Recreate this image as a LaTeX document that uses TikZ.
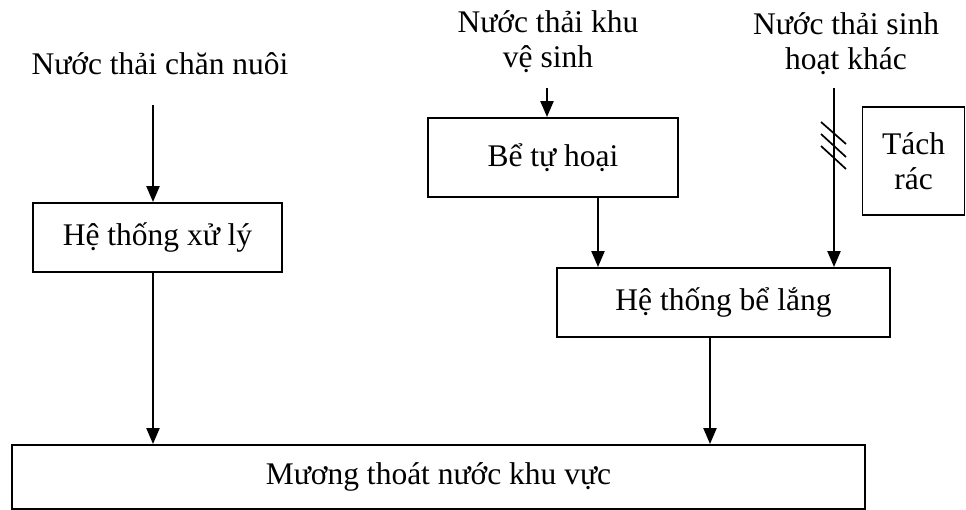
\documentclass[tikz,border=0pt]{standalone}
\usepackage{fontspec}
\setmainfont{Liberation Serif}
\usetikzlibrary{arrows.meta}
\begin{document}
\begin{tikzpicture}[x=1pt,y=-1pt,
  box/.style={draw,line width=1.9pt,inner sep=0pt},
  arr/.style={line width=2.2pt,-{Triangle[length=16pt,width=13pt]}},
  lbl/.style={align=center,inner sep=0pt},
  hatch/.style={line width=1.7pt},
  every node/.style={font=\fontsize{31.5}{35}\selectfont}]
\useasboundingbox (0,0) rectangle (966,510);

\node[box,minimum width=249pt,minimum height=69pt] (xuly) at (157.5,237.5) {Hệ thống xử lý};
\node[box,minimum width=250pt,minimum height=79pt] (tuhoai) at (553,157.5) {Bể tự hoại};
\node[box,minimum width=333pt,minimum height=69pt] (lang) at (723.5,302.5) {Hệ thống bể lắng};
\node[box,minimum width=853pt,minimum height=64pt] (muong) at (438.5,477) {Mương thoát nước khu vực};
\node[box,minimum width=102pt,minimum height=108pt,align=center] (tachrac) at (913.5,161) {Tách\\rác};

\node[lbl,anchor=base] (chan) at (160,75) {Nước thải chăn nuôi};
\node[lbl,anchor=base] (vesinh) at (548,68) {Nước thải khu\\vệ sinh};
\node[lbl,anchor=base] (khac) at (846,70) {Nước thải sinh\\hoạt khác};

\coordinate (c1) at (153,105);
\coordinate (c2) at (547,88);
\coordinate (c3) at (834,88);
\coordinate (x598) at (598,0);
\coordinate (x710) at (710,0);

\draw[arr] (c1) -- (c1 |- xuly.north);
\draw[arr] (xuly.south -| c1) -- (muong.north -| c1);
\draw[arr] (c2) -- (c2 |- tuhoai.north);
\draw[arr] (tuhoai.south -| x598) -- (lang.north -| x598);
\draw[arr] (c3) -- (c3 |- lang.north);
\draw[arr] (lang.south -| x710) -- (muong.north -| x710);

\draw[hatch] (821,122) -- (846,144);
\draw[hatch] (821,134) -- (846,157);
\draw[hatch] (821,146) -- (846,169);
\end{tikzpicture}
\end{document}
